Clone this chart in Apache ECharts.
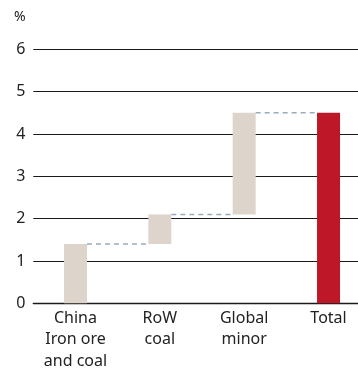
<!DOCTYPE html>
<html>
<head>
<meta charset="utf-8">
<script src="https://cdn.jsdelivr.net/npm/echarts@6/dist/echarts.min.js"></script>
<style>
  html, body { margin: 0; padding: 0; background: #fff; }
  #chart { width: 358px; height: 369px; }
</style>
</head>
<body>
<div id="chart"></div>
<script>
// Contribution steps and the resulting total, in %
const categories = ['China\nIron ore\nand coal', 'RoW\ncoal', 'Global\nminor', 'Total'];
const steps = [1.4, 0.7, 2.4];
const total = 4.5;
const yTicks = [0, 1, 2, 3, 4, 5, 6];

const STEP_COLOR = '#ddd5cc';
const TOTAL_COLOR = '#be1828';
const FONT = 'Noto Sans';

// Floating bars: invisible base + visible increment
const bases = [];
let run = 0;
steps.forEach(v => { bases.push(run); run += v; });
bases.push(0);
const heights = steps.concat([total]);
// Level at which each connector runs (top of bar i)
const levels = bases.map((b, i) => b + heights[i]);

const chart = echarts.init(document.getElementById('chart'), null, { renderer: 'canvas' });

chart.setOption({
  animation: false,
  grid: {
    left: 33.3, right: -12.7, top: 49.3, bottom: 65.7,
    containLabel: false,
    outerBoundsMode: 'none'
  },
  xAxis: {
    type: 'category',
    data: categories,
    axisTick: { show: false },
    axisLine: { show: true, lineStyle: { color: '#1a1a1a', width: 1.3 } },
    axisLabel: {
      color: '#222',
      fontFamily: FONT,
      fontSize: 16,
      lineHeight: 21.5,
      margin: 4,
      interval: 0
    }
  },
  yAxis: {
    type: 'value',
    min: yTicks[0],
    max: yTicks[yTicks.length - 1],
    interval: 1,
    axisLine: { show: false },
    axisTick: { show: false },
    axisLabel: { color: '#222', fontFamily: FONT, fontSize: 16, margin: 8 },
    splitLine: { lineStyle: { color: '#1a1a1a', width: 1.2 } }
  },
  graphic: [{
    type: 'text',
    left: 14,
    top: 10,
    style: { text: '%', fill: '#222', font: '14px "' + FONT + '"' }
  }],
  series: [
    {
      type: 'bar',
      stack: 'w',
      barWidth: 23,
      silent: true,
      itemStyle: { color: 'transparent' },
      data: bases
    },
    {
      type: 'bar',
      stack: 'w',
      barWidth: 23,
      data: heights.map((h, i) => ({
        value: h,
        itemStyle: { color: i === heights.length - 1 ? TOTAL_COLOR : STEP_COLOR }
      }))
    },
    {
      // dashed connectors from each bar's top to the next bar
      type: 'custom',
      z: 5,
      data: levels.slice(0, steps.length).map((lv, i) => [i, lv]),
      renderItem: function (params, api) {
        const i = api.value(0);
        const lv = api.value(1);
        const p0 = api.coord([i, lv]);
        const p1 = api.coord([i + 1, lv]);
        const half = 23 / 2;
        return {
          type: 'line',
          shape: { x1: p0[0] + half, y1: p0[1], x2: p1[0] - half, y2: p1[1] },
          style: { stroke: '#9aabbb', lineWidth: 1.5, lineDash: [5, 4] }
        };
      }
    }
  ]
});
</script>
</body>
</html>
